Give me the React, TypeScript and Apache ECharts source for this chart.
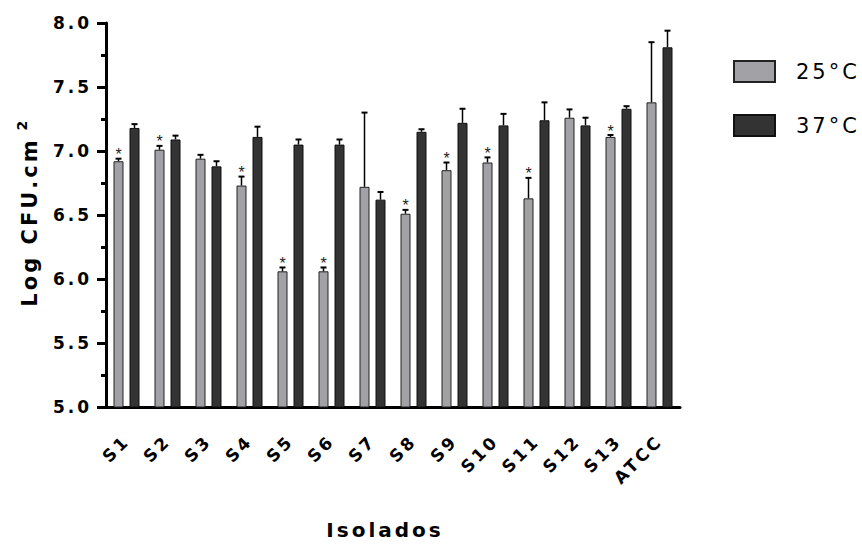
import React, { useEffect, useRef } from 'react';
import * as echarts from 'echarts';

const categories = ['S1', 'S2', 'S3', 'S4', 'S5', 'S6', 'S7', 'S8', 'S9', 'S10', 'S11', 'S12', 'S13', 'ATCC'];
const mean25 = [6.92, 7.01, 6.94, 6.73, 6.06, 6.06, 6.72, 6.51, 6.85, 6.91, 6.63, 7.26, 7.11, 7.38];
const err25 = [0.02, 0.03, 0.03, 0.07, 0.03, 0.03, 0.58, 0.03, 0.06, 0.04, 0.16, 0.065, 0.015, 0.47];
const sig25 = [1, 1, 0, 1, 1, 1, 0, 1, 1, 1, 1, 0, 1, 0];
const mean37 = [7.18, 7.09, 6.88, 7.11, 7.05, 7.05, 6.62, 7.15, 7.22, 7.2, 7.24, 7.2, 7.33, 7.81];
const err37 = [0.03, 0.03, 0.04, 0.08, 0.04, 0.04, 0.06, 0.02, 0.11, 0.09, 0.14, 0.06, 0.02, 0.13];
const seriesNames = ['25°C', '37°C'];
const yTicks = { min: 5, max: 8, interval: 0.5 };

const BAR_W = 10;
const BAR_GAP = 6;
const OFFSET = (BAR_W + BAR_GAP) / 2;
const FONT_B = 'DejaVu Sans';

function errSeries(means: number[], errs: number[], sig: number[] | null, dx: number) {
  return {
    type: 'custom',
    silent: true,
    z: 4,
    data: means.map((m, i) => [i, m, m + errs[i], sig ? sig[i] : 0]),
    encode: { x: 0, y: [1, 2] },
    renderItem: (params: any, api: any) => {
      const i = api.value(0);
      const p0 = api.coord([i, api.value(1)]);
      const p1 = api.coord([i, api.value(2)]);
      const x = p0[0] + dx;
      const children: any[] = [
        { type: 'line', shape: { x1: x, y1: p0[1], x2: x, y2: p1[1] }, style: { stroke: '#000', lineWidth: 1.5 } },
        { type: 'line', shape: { x1: x - 3, y1: p1[1], x2: x + 3, y2: p1[1] }, style: { stroke: '#000', lineWidth: 2 } },
      ];
      if (api.value(3)) {
        children.push({
          type: 'text',
          style: { text: '*', x: x + 1.5, y: p1[1] - 4, textAlign: 'center', textVerticalAlign: 'middle', fontSize: 16, fontFamily: 'Liberation Sans', fill: '#222' },
        });
      }
      return { type: 'group', children };
    },
  };
}

export default function App() {
  const ref = useRef<HTMLDivElement>(null);
  useEffect(() => {
    if (!ref.current) return;
    const chart = echarts.init(ref.current, null, { renderer: 'svg' });
    chart.setOption({
      animation: false,
      backgroundColor: '#fff',
      grid: { left: 106, right: 182, top: 23, bottom: 147 },
      legend: {
        data: seriesNames,
        orient: 'vertical',
        left: 728,
        top: 55,
        itemWidth: 41,
        itemHeight: 21,
        itemGap: 31,
        icon: 'rect',
        textStyle: { fontFamily: FONT_B, fontSize: 21, color: '#000', padding: [0, 0, 0, 16] },
      },
      xAxis: {
        type: 'category',
        data: categories,
        axisLine: { lineStyle: { color: '#000', width: 3 } },
        axisTick: { alignWithLabel: true, length: 10, lineStyle: { color: '#000', width: 3 } },
        axisLabel: { rotate: 45, margin: 31, fontFamily: FONT_B, fontWeight: 'bold', fontSize: 17, color: '#000', interval: 0 },
        splitLine: { show: false },
      },
      yAxis: {
        type: 'value',
        min: yTicks.min,
        max: yTicks.max,
        interval: yTicks.interval,
        axisLine: { show: true, lineStyle: { color: '#000', width: 3 } },
        axisTick: { show: true, length: 9, lineStyle: { color: '#000', width: 3 } },
        minorTick: { show: true, splitNumber: 2, length: 5, lineStyle: { color: '#000', width: 3 } },
        axisLabel: { margin: 14, fontFamily: FONT_B, fontWeight: 'bold', fontSize: 17, color: '#000', formatter: (v: number) => v.toFixed(1) },
        splitLine: { show: false },
      },
      series: [
        {
          name: seriesNames[0],
          type: 'bar',
          data: mean25,
          barWidth: BAR_W,
          barGap: '60%',
          itemStyle: { color: '#a2a2a6', borderColor: '#222', borderWidth: 1 },
        },
        {
          name: seriesNames[1],
          type: 'bar',
          data: mean37,
          barWidth: BAR_W,
          itemStyle: { color: '#333333', borderColor: '#111', borderWidth: 1 },
        },
        errSeries(mean25, err25, sig25, -OFFSET),
        errSeries(mean37, err37, null, OFFSET),
      ],
      graphic: [
        {
          type: 'text',
          x: 30,
          y: 222,
          rotation: Math.PI / 2,
          style: { text: 'Log CFU.cm', textAlign: 'center', textVerticalAlign: 'middle', fontFamily: FONT_B, fontWeight: 'bold', fontSize: 21, fill: '#000' },
        },
        {
          type: 'text',
          x: 22,
          y: 124,
          rotation: Math.PI / 2,
          style: { text: '2', textAlign: 'center', textVerticalAlign: 'middle', fontFamily: FONT_B, fontWeight: 'bold', fontSize: 14, fill: '#000' },
        },
        {
          type: 'text',
          x: 385,
          y: 530,
          style: { text: 'Isolados', textAlign: 'center', textVerticalAlign: 'middle', fontFamily: FONT_B, fontWeight: 'bold', fontSize: 20, fill: '#000' },
        },
      ],
    });
    return () => chart.dispose();
  }, []);
  return (
    <>
      <style>{'#chart svg text { letter-spacing: 3px; }'}</style>
      <div id="chart" ref={ref} style={{ position: 'absolute', left: 0, top: 0, width: 862, height: 554 }} />
    </>
  );
}
